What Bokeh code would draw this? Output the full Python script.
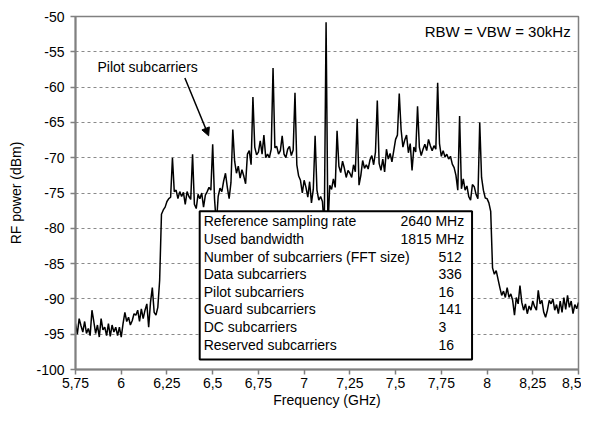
from bokeh.plotting import figure
from bokeh.models import (Range1d, FixedTicker, CustomJSTickFormatter, BoxAnnotation,
                          Label, Arrow, NormalHead)
from bokeh.embed import file_html
from bokeh.resources import INLINE

# ---------------- data ----------------
FREQ = [
    5.75, 5.76, 5.77, 5.78, 5.79, 5.80, 5.81, 5.82, 5.83, 5.84,
    5.85, 5.86, 5.87, 5.88, 5.89, 5.90, 5.91, 5.92, 5.93, 5.94,
    5.95, 5.96, 5.97, 5.98, 5.99, 6.00, 6.01, 6.02, 6.03, 6.04,
    6.05, 6.06, 6.07, 6.08, 6.09, 6.10, 6.11, 6.12, 6.13, 6.14,
    6.15, 6.16, 6.17, 6.18, 6.19, 6.20, 6.21, 6.22, 6.23, 6.24,
    6.25, 6.26, 6.27, 6.28, 6.29, 6.30, 6.31, 6.32, 6.33, 6.34,
    6.35, 6.36, 6.37, 6.38, 6.39, 6.40, 6.41, 6.42, 6.43, 6.44,
    6.45, 6.46, 6.47, 6.48, 6.49, 6.50, 6.51, 6.52, 6.53, 6.54,
    6.55, 6.56, 6.57, 6.58, 6.59, 6.60, 6.61, 6.62, 6.63, 6.64,
    6.65, 6.66, 6.67, 6.68, 6.69, 6.70, 6.71, 6.72, 6.73, 6.74,
    6.75, 6.76, 6.77, 6.78, 6.79, 6.80, 6.81, 6.82, 6.83, 6.84,
    6.85, 6.86, 6.87, 6.88, 6.89, 6.90, 6.91, 6.92, 6.93, 6.94,
    6.95, 6.96, 6.97, 6.98, 6.99, 7.00, 7.01, 7.02, 7.03, 7.04,
    7.05, 7.06, 7.07, 7.08, 7.09, 7.10, 7.11, 7.12, 7.13, 7.14,
    7.15, 7.16, 7.17, 7.18, 7.19, 7.20, 7.21, 7.22, 7.23, 7.24,
    7.25, 7.26, 7.27, 7.28, 7.29, 7.30, 7.31, 7.32, 7.33, 7.34,
    7.35, 7.36, 7.37, 7.38, 7.39, 7.40, 7.41, 7.42, 7.43, 7.44,
    7.45, 7.46, 7.47, 7.48, 7.49, 7.50, 7.51, 7.52, 7.53, 7.54,
    7.55, 7.56, 7.57, 7.58, 7.59, 7.60, 7.61, 7.62, 7.63, 7.64,
    7.65, 7.66, 7.67, 7.68, 7.69, 7.70, 7.71, 7.72, 7.73, 7.74,
    7.75, 7.76, 7.77, 7.78, 7.79, 7.80, 7.81, 7.82, 7.83, 7.84,
    7.85, 7.86, 7.87, 7.88, 7.89, 7.90, 7.91, 7.92, 7.93, 7.94,
    7.95, 7.96, 7.97, 7.98, 7.99, 8.00, 8.01, 8.02, 8.03, 8.04,
    8.05, 8.06, 8.07, 8.08, 8.09, 8.10, 8.11, 8.12, 8.13, 8.14,
    8.15, 8.16, 8.17, 8.18, 8.19, 8.20, 8.21, 8.22, 8.23, 8.24,
    8.25, 8.26, 8.27, 8.28, 8.29, 8.30, 8.31, 8.32, 8.33, 8.34,
    8.35, 8.36, 8.37, 8.38, 8.39, 8.40, 8.41, 8.42, 8.43, 8.44,
    8.45, 8.46, 8.47, 8.48, 8.49, 8.50,
]

POWER = [
    -93.5, -95.0, -92.8, -93.8, -94.7, -93.2, -94.9, -94.2, -95.2, -91.6,
    -93.2, -94.9, -93.7, -95.4, -92.8, -94.4, -94.0, -95.2, -93.5, -95.3,
    -93.7, -94.7, -94.0, -95.2, -94.0, -95.4, -93.5, -91.9, -93.2, -92.6,
    -93.7, -93.1, -92.1, -92.3, -91.6, -93.2, -91.4, -92.8, -91.6, -90.7,
    -94.0, -90.5, -88.4, -91.9, -92.3, -91.2, -87.4, -78.0, -77.4, -77.0,
    -76.2, -75.8, -75.6, -70.0, -74.8, -74.6, -75.8, -74.8, -75.5, -74.9,
    -76.6, -74.8, -75.5, -75.9, -69.5, -76.6, -77.2, -75.2, -75.8, -75.0,
    -77.0, -75.3, -74.8, -74.2, -74.6, -68.1, -75.8, -79.5, -75.5, -74.3,
    -74.8, -73.3, -72.2, -74.2, -75.8, -73.5, -66.0, -70.5, -72.2, -71.2,
    -72.9, -71.7, -72.6, -73.7, -69.5, -69.0, -71.0, -61.4, -68.5, -69.6,
    -69.2, -67.6, -69.5, -66.8, -70.0, -69.5, -70.0, -68.8, -57.3, -68.6,
    -68.4, -69.5, -69.0, -66.9, -69.5, -70.0, -68.8, -68.4, -69.7, -68.9,
    -60.8, -71.0, -72.6, -73.2, -75.0, -73.2, -74.2, -75.6, -73.4, -76.4,
    -74.5, -66.9, -74.6, -76.0, -75.5, -76.2, -80.0, -50.8, -80.0, -73.9,
    -74.5, -73.0, -74.2, -66.2, -71.2, -72.1, -70.5, -71.5, -72.8, -71.8,
    -72.2, -72.8, -71.0, -72.0, -64.5, -73.9, -72.5, -70.4, -71.5, -71.0,
    -71.6, -70.3, -69.7, -71.0, -69.2, -61.9, -70.8, -71.8, -70.2, -72.0,
    -68.8, -70.2, -69.4, -70.6, -69.0, -67.4, -66.8, -60.9, -66.0, -68.5,
    -67.5, -66.8, -69.3, -68.0, -71.8, -68.5, -69.2, -62.7, -68.5, -69.7,
    -68.8, -68.1, -69.0, -67.4, -68.3, -69.0, -68.3, -68.8, -59.4, -68.0,
    -69.8, -69.0, -69.9, -69.5, -70.2, -69.8, -70.9, -71.4, -72.5, -74.6,
    -64.1, -74.4, -73.0, -74.6, -74.0, -75.5, -76.0, -73.8, -74.1, -75.2,
    -75.8, -65.0, -72.8, -74.6, -75.7, -75.8, -76.4, -77.6, -85.6, -86.5,
    -86.0, -87.2, -88.4, -89.5, -88.9, -89.8, -88.4, -89.8, -89.3, -90.2,
    -92.3, -89.8, -90.7, -88.1, -90.5, -91.6, -90.7, -92.1, -91.0, -91.6,
    -90.3, -91.1, -91.6, -88.8, -90.7, -90.2, -91.9, -92.6, -91.6, -90.2,
    -90.7, -90.0, -91.6, -90.8, -92.1, -90.3, -91.9, -89.8, -91.5, -89.5,
    -91.2, -90.3, -92.1, -90.8, -91.4, -90.5,
]

X_TICKS = [5.75, 6.0, 6.25, 6.5, 6.75, 7.0, 7.25, 7.5, 7.75, 8.0, 8.25, 8.5]
Y_TICKS = [-100, -95, -90, -85, -80, -75, -70, -65, -60, -55, -50]

TABLE_LABELS = [
    "Reference sampling rate",
    "Used bandwidth",
    "Number of subcarriers (FFT size)",
    "Data subcarriers",
    "Pilot subcarriers",
    "Guard subcarriers",
    "DC subcarriers",
    "Reserved subcarriers",
]
TABLE_VALUES = ["2640 MHz", "1815 MHz", "512", "336", "16", "141", "3", "16"]

FONT = "Liberation Sans"
GRAY = "#808080"

p = figure(width=581, height=410, output_backend="svg", toolbar_location=None,
           x_range=Range1d(5.75, 8.5), y_range=Range1d(-100, -50),
           min_border_left=75, min_border_right=3, min_border_top=16,
           min_border_bottom=41,
           x_axis_label="Frequency (GHz)", y_axis_label="RF power (dBm)")

p.background_fill_color = "white"
p.border_fill_color = "white"
p.outline_line_color = GRAY
p.outline_line_width = 1.5

p.line(FREQ, POWER, line_color="black", line_width=1.5)

# axes
for ax in (p.xaxis[0], p.yaxis[0]):
    ax.axis_line_color = GRAY
    ax.axis_line_width = 2
    ax.major_tick_line_color = GRAY
    ax.major_tick_line_width = 1.5
    ax.major_tick_out = 5
    ax.major_tick_in = 0
    ax.minor_tick_line_color = None
    ax.major_label_text_font = FONT
    ax.major_label_text_font_size = "14px"
    ax.major_label_text_color = "black"
    ax.axis_label_text_font = FONT
    ax.axis_label_text_font_size = "14px"
    ax.axis_label_text_font_style = "normal"
    ax.axis_label_text_color = "black"

p.xaxis.ticker = FixedTicker(ticks=X_TICKS)
p.xaxis.formatter = CustomJSTickFormatter(code="return String(tick).replace('.', ',');")
p.xaxis.major_label_standoff = 3
p.xaxis.axis_label_standoff = 1
p.yaxis.ticker = FixedTicker(ticks=Y_TICKS)
p.yaxis.formatter = CustomJSTickFormatter(code="return String(tick);")
p.yaxis.major_label_standoff = 6
p.yaxis.axis_label_standoff = 9

p.xgrid.visible = False
p.ygrid.ticker = FixedTicker(ticks=Y_TICKS)
p.ygrid.grid_line_color = "#8a8a8a"
p.ygrid.grid_line_dash = "3 3"
p.ygrid.grid_line_width = 1

# annotations
p.add_layout(Label(x=8.457, y=-52.1, text="RBW = VBW = 30kHz", text_align="right",
                   text_baseline="middle", text_font=FONT, text_font_size="15px",
                   text_color="black"))
p.add_layout(Label(x=5.87, y=-57.1, text="Pilot subcarriers", text_align="left",
                   text_baseline="middle", text_font=FONT, text_font_size="14px",
                   text_color="black"))
p.add_layout(Arrow(end=NormalHead(size=8, fill_color="black", line_color="black"),
                   x_start=6.348, y_start=-58.7, x_end=6.478, y_end=-66.9,
                   line_color="black", line_width=1.5))

# parameter table
p.add_layout(BoxAnnotation(left=6.429, right=7.918, top=-77.6, bottom=-98.6,
                           fill_color="white", fill_alpha=1.0,
                           line_color="black", line_width=2, line_alpha=1.0))
for k, (lab, val) in enumerate(zip(TABLE_LABELS, TABLE_VALUES)):
    yk = -79.0 - 2.5 * k
    p.add_layout(Label(x=6.451, y=yk, text=lab, text_align="left",
                       text_baseline="middle", text_font=FONT,
                       text_font_size="14px", text_color="black"))
    if val.endswith("MHz"):
        p.add_layout(Label(x=7.875, y=yk, text=val, text_align="right",
                           text_baseline="middle", text_font=FONT,
                           text_font_size="14px", text_color="black"))
    else:
        p.add_layout(Label(x=7.734, y=yk, text=val, text_align="left",
                           text_baseline="middle", text_font=FONT,
                           text_font_size="14px", text_color="black"))

open("out.html", "w").write(file_html(p, INLINE))
